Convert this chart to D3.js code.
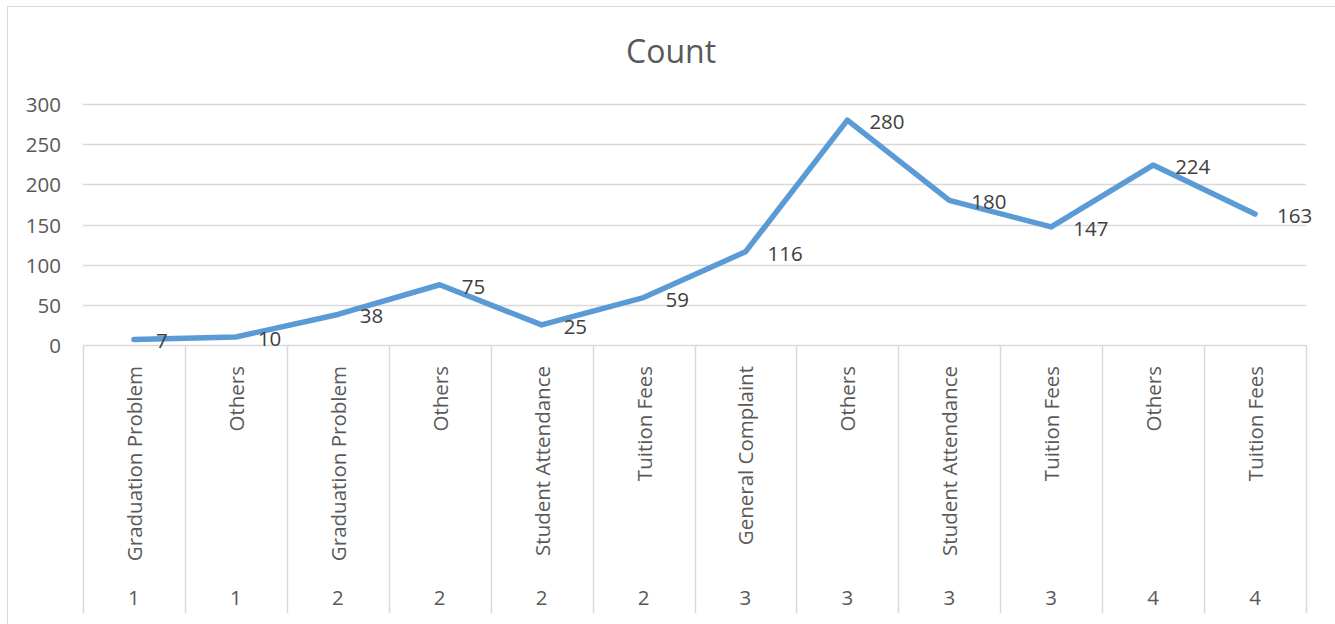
<!DOCTYPE html>
<html><head><meta charset="utf-8">
<script src="https://cdn.jsdelivr.net/npm/d3@7"></script>
<style>body{margin:0;background:#fff;}svg{display:block;font-family:"Open Sans",sans-serif;}</style>
</head><body><svg id="c" width="1335" height="624"></svg>
<script>
const categories = ["Graduation Problem","Others","Graduation Problem","Others","Student Attendance","Tuition Fees","General Complaint","Others","Student Attendance","Tuition Fees","Others","Tuition Fees"];
const groups = ["1","1","2","2","2","2","3","3","3","3","4","4"];
const counts = [7,10,38,75,25,59,116,280,180,147,224,163];
const yTicks = [0,50,100,150,200,250,300];
const title = "Count";

const svg = d3.select("#c");
svg.append("rect").attr("x",7.5).attr("y",6.5).attr("width",1340).attr("height",640)
  .attr("fill","#fff").attr("stroke","#d9d9d9");

const pL=83, pR=1306, pT=104, pB=345;
const fs = 20.5;
const x = d3.scaleBand().domain(d3.range(categories.length)).range([pL,pR]).padding(0);
const y = d3.scaleLinear().domain([0,300]).range([pB,pT]);

svg.append("text").attr("x",671).attr("y",50).attr("text-anchor","middle")
  .attr("dominant-baseline","central").attr("font-size",32).attr("fill","#595959").text(title);

svg.append("g").selectAll("line").data(yTicks).join("line")
  .attr("x1",pL).attr("x2",pR).attr("y1",d=>Math.round(y(d))+0.5).attr("y2",d=>Math.round(y(d))+0.5)
  .attr("stroke","#d9d9d9").attr("stroke-width",1.5);

svg.append("g").selectAll("text").data(yTicks).join("text")
  .attr("x",61).attr("y",d=>y(d)).attr("text-anchor","end").attr("dominant-baseline","central")
  .attr("font-size",fs).attr("fill","#595959").text(d=>d);

const bounds = d3.range(categories.length+1).map(i=> i<categories.length ? x(i) : pR);
svg.append("g").selectAll("line").data(bounds).join("line")
  .attr("x1",d=>Math.round(d)+0.5).attr("x2",d=>Math.round(d)+0.5).attr("y1",pB).attr("y2",613)
  .attr("stroke","#d9d9d9").attr("stroke-width",1.5);

svg.append("g").selectAll("text").data(categories).join("text")
  .attr("transform",(d,i)=>`translate(${x(i)+x.bandwidth()/2},366) rotate(-90)`)
  .attr("text-anchor","end").attr("dominant-baseline","central")
  .attr("font-size",fs).attr("fill","#595959").text(d=>d);

svg.append("g").selectAll("text").data(groups).join("text")
  .attr("x",(d,i)=>x(i)+x.bandwidth()/2).attr("y",597).attr("text-anchor","middle").attr("dominant-baseline","central")
  .attr("font-size",fs).attr("fill","#595959").text(d=>d);

const line = d3.line().x((d,i)=>x(i)+x.bandwidth()/2).y(d=>y(d));
svg.append("path").datum(counts).attr("d",line).attr("fill","none")
  .attr("stroke","#5b9bd5").attr("stroke-width",5.5).attr("stroke-linejoin","round").attr("stroke-linecap","round");

svg.append("g").selectAll("text").data(counts).join("text")
  .attr("x",(d,i)=>x(i)+x.bandwidth()/2+22).attr("y",d=>y(d)+1).attr("dominant-baseline","central")
  .attr("font-size",fs).attr("fill","#404040").text(d=>d);
</script></body></html>
